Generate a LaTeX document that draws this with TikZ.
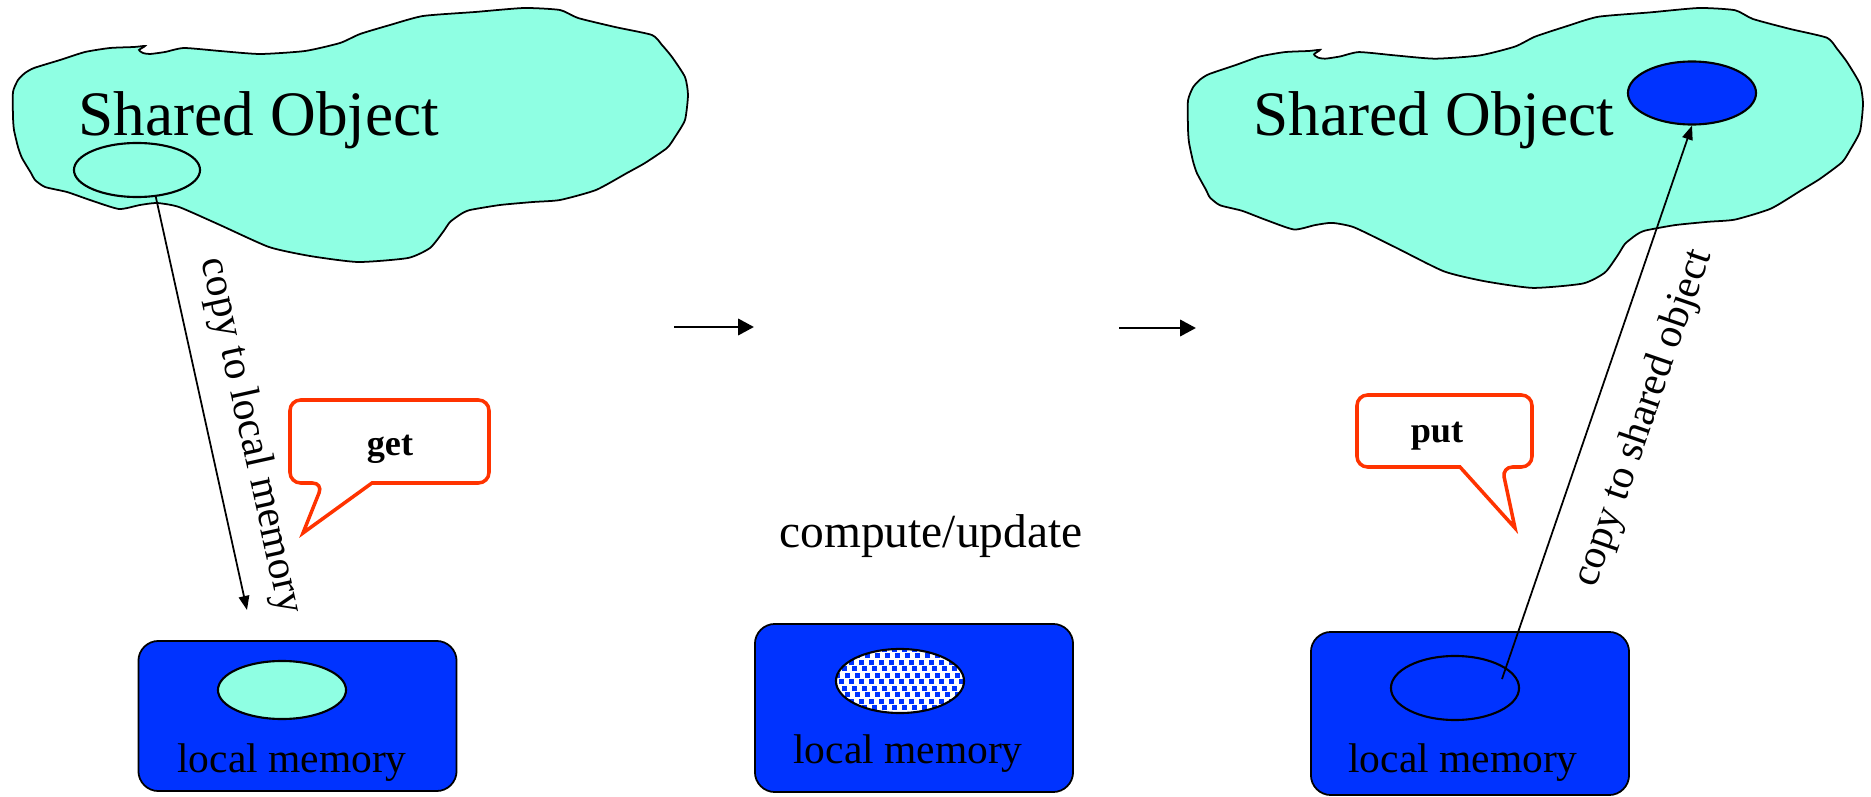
\documentclass[tikz,border=0pt]{standalone}
\usepackage{fontspec}
\setmainfont{Liberation Serif}
\usetikzlibrary{shapes.geometric,arrows.meta,calc}

\definecolor{aqua}{RGB}{143,255,227}
\definecolor{memblue}{RGB}{0,51,255}
\definecolor{bubred}{RGB}{255,51,0}

% outline of the shared object
\newcommand{\sharedblob}[1]{\draw[#1] plot[smooth cycle,tension=0.35] coordinates {
 (13,92) (18,80) (25,73) (34,68) (60,60) (85,52) (110,48) (134,47) (145,46)
 (139,50) (143,53) (150,54) (165,52) (184,48) (220,51) (260,54) (305,51)
 (340,43) (360,34) (390,25) (423,16) (475,12) (524,8) (560,10) (578,18)
 (615,27) (652,35) (662,45) (672,57) (685,77) (688,95) (685,120) (675,137)
 (667,148) (645,163) (627,173) (596,190) (560,200) (533,202) (500,205)
 (470,210) (461,214) (450,222) (443,232) (430,248) (408,258) (358,262)
 (310,256) (269,247) (220,225) (179,207) (157,203) (140,205) (119,209)
 (90,200) (67,192) (45,187) (35,180) (31,173) (22,158) (18,147) (14,130)
 (13,117)};}

\begin{document}
\begin{tikzpicture}[x=0.01cm,y=-0.01cm,
 blob/.style={draw=black,fill=aqua,line width=0.5pt},
 membox/.style={rectangle,rounded corners=0.2cm,draw=black,fill=memblue,line width=0.5pt,minimum width=3.18cm},
 spot/.style={ellipse,draw=black,inner sep=0pt,line width=0.6pt,minimum width=1.28cm},
 lbl/.style={inner sep=0pt,font=\fontsize{11.8}{14}\selectfont},
 title/.style={inner sep=0pt,anchor=base west,font=\fontsize{18}{21}\selectfont},
 bubble/.style={draw=bubred,fill=white,line width=1pt,line join=miter},
 bubtext/.style={inner sep=0pt,anchor=base,font=\fontsize{10.3}{12}\selectfont\bfseries},
 cpyarrow/.style={line width=0.5pt,-{Triangle[length=4pt,width=3pt]}},
 nextarrow/.style={line width=0.8pt,-{Triangle[length=4.5pt,width=4.6pt]}},
 dotty/.style={path picture={
   \foreach \j in {0,...,10}
     \foreach \i in {0,...,13}
       \fill[memblue] ($(path picture bounding box.north west)+({\i*10+mod(\j,3)*3.3-4},{\j*6.5-2})$) rectangle +(5,5);}}]
\useasboundingbox (0,0) rectangle (1871,797);

% before: get
\begin{scope}[shift={(0,8)},shift={(0,-8)}]
\sharedblob{blob}
\end{scope}
\node[title] (titleL) at (78,135) {Shared Object};
\node[spot,minimum width=1.26cm,minimum height=0.54cm] (sobjL) at (137,170) {};

\node[membox,minimum height=1.5cm] (memL) at (297.5,716) {};
\node[spot,fill=aqua,minimum height=0.58cm] (elL) at (282,690) {};
\node[lbl,anchor=base] (txtL) at (292,772) {local memory};

\coordinate (getend) at (247,610);
\draw[cpyarrow] (sobjL.-55) -- node[lbl,pos=0.6,sloped,above=6pt] (cpyL) {copy to local memory} (getend);

\draw[bubble] (372,483) [rounded corners=3pt] -- (489,483) -- (489,400) -- (290,400) -- (290,483) -- (323,483) [sharp corners] -- (303,533) -- cycle;
\node[bubtext] (get) at (390,455) {get};

% compute
\coordinate (s1a) at (674,327);
\coordinate (s1b) at (754,327);
\draw[nextarrow] (s1a) -- (s1b);
\node[inner sep=0pt,anchor=base,font=\fontsize{13.5}{16}\selectfont] (comp) at (931,547) {compute/update};

\node[membox,minimum height=1.68cm] (memM) at (914,708) {};
\node[spot,fill=white,dotty,minimum height=0.64cm] (elM) at (900,681) {};
\node[lbl,anchor=base] (txtM) at (908,763) {local memory};

\coordinate (s2a) at (1119,328);
\coordinate (s2b) at (1196,328);
\draw[nextarrow] (s2a) -- (s2b);

% after: put
\begin{scope}[shift={(1175,8)},yscale=1.102,shift={(0,-8)}]
\sharedblob{blob}
\end{scope}
\node[title] (titleR) at (1253,135) {Shared Object};
\node[spot,fill=memblue,minimum height=0.63cm] (sobjR) at (1692,93) {};

\node[membox,minimum height=1.63cm] (memR) at (1470,713.5) {};
\node[spot,fill=memblue,minimum height=0.64cm] (elR) at (1455,688) {};
\node[lbl,anchor=base] (txtR) at (1463,772) {local memory};

\coordinate (putstart) at (1502,679);
\draw[cpyarrow] (putstart) -- node[lbl,pos=0.5,sloped,below=8.5pt] (cpyR) {copy to shared object} (sobjR.south);

\draw[bubble] (1460,467) [rounded corners=3pt] -- (1357,467) -- (1357,395) -- (1532,395) -- (1532,467) -- (1502,467) [sharp corners] -- (1515,528) -- cycle;
\node[bubtext] (put) at (1437,442) {put};
\end{tikzpicture}
\end{document}
